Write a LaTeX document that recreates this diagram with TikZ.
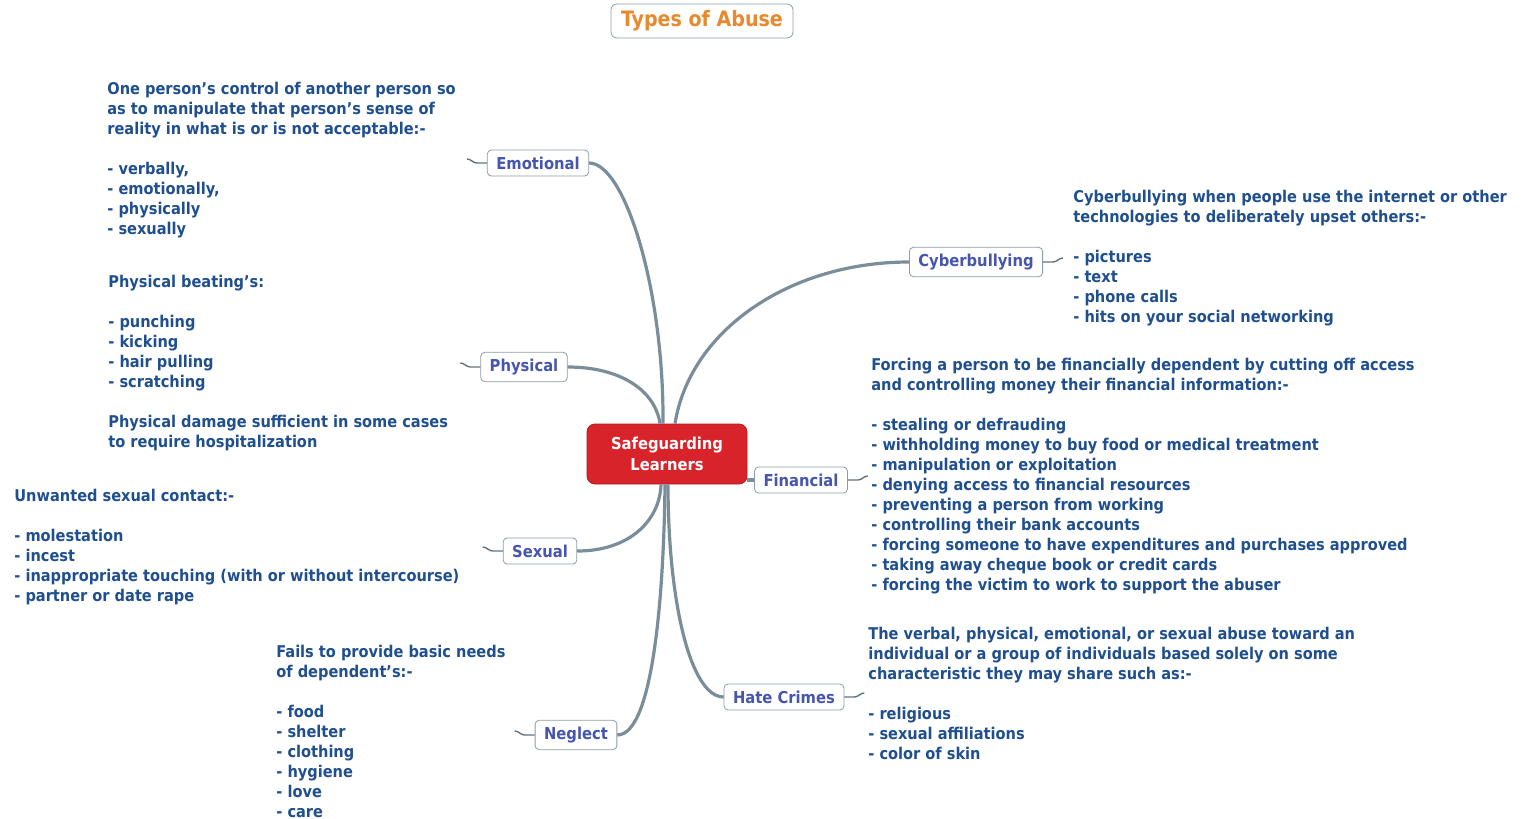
\documentclass[tikz,border=0pt]{standalone}
\usepackage{fontspec}
\setmainfont{DejaVu Sans Condensed}
\usetikzlibrary{calc}
\definecolor{notetext}{HTML}{1F4F8E}
\definecolor{topictext}{HTML}{4656AE}
\definecolor{topicline}{HTML}{8C9CA8}
\definecolor{branch}{HTML}{7A8D9A}
\definecolor{rootfill}{HTML}{D8232A}
\definecolor{titletext}{HTML}{E8892E}
\tikzset{
  topic/.style={draw=topicline, fill=white, rounded corners=2pt, text=topictext,
    font=\bfseries\fontsize{8.2}{10}\selectfont, inner xsep=4.5pt, minimum height=12.5pt},
  note/.style={anchor=west, align=left, inner sep=0pt, text=notetext,
    font=\bfseries\fontsize{8.1}{10}\selectfont},
  limb/.style={draw=branch, line width=1.6pt},
  tail/.style={draw=branch!80!black, line width=0.7pt},
}
\begin{document}
\begin{tikzpicture}[x=0.5pt,y=-0.5pt]
\useasboundingbox (0,0) rectangle (1522,819);
% Drawing title and root
\node[draw=topicline, rounded corners=3pt, fill=white, text=titletext, minimum width=91pt,
  minimum height=16pt, font=\bfseries\fontsize{10.6}{12}\selectfont] (title) at (702,21) {Types of Abuse};
\node[draw=rootfill!80!black, fill=rootfill, rounded corners=4pt, text=white, align=center,
  minimum width=80pt, minimum height=30pt, font=\bfseries\fontsize{8.2}{10.5}\selectfont]
  (root) at (667,454) {Safeguarding\\Learners};
% Drawing topics
\node[topic] (emotional) at (538,163) {Emotional};
\node[topic] (physical) at (524,367) {Physical};
\node[topic] (sexual) at (540,551) {Sexual};
\node[topic] (neglect) at (576,735) {Neglect};
\node[topic] (cyber) at (976,262) {Cyberbullying};
\node[topic] (financial) at (801,480) {Financial};
\node[topic] (hate) at (784,697) {Hate Crimes};
% Drawing branches
\draw[limb] (emotional.east) .. controls (625,163) and (664,290) .. ($(root.north)+(-4,0)$);
\draw[limb] (physical.east) .. controls (620,367) and (655,390) .. ($(root.north)+(-7,0)$);
\draw[limb] (cyber.west) .. controls (790,262) and (690,330) .. ($(root.north)+(8,0)$);
\draw[limb] (root.east |- financial.west) -- (financial.west);
\draw[limb] (sexual.east) .. controls (630,551) and (660,520) .. ($(root.south)+(-6,0)$);
\draw[limb] (neglect.east) .. controls (655,735) and (664,580) .. ($(root.south)+(-2,0)$);
\draw[limb] (hate.west) .. controls (690,697) and (668,600) .. ($(root.south)+(1,0)$);
% Drawing notes
\node[note] (emotionalnote) at (107,160) {One person's control of another person so\\
  as to manipulate that person's sense of\\reality in what is or is not acceptable:-\\[10pt]
  - verbally,\\- emotionally,\\- physically\\- sexually};
\node[note] (physicalnote) at (108,363) {Physical beating's:\\[10pt]
  - punching\\- kicking\\- hair pulling\\- scratching\\[10pt]
  Physical damage sufficient in some cases\\to require hospitalization};
\node[note] (sexualnote) at (14,547) {Unwanted sexual contact:-\\[10pt]
  - molestation\\- incest\\- inappropriate touching (with or without intercourse)\\- partner or date rape};
\node[note] (neglectnote) at (276,731) {Fails to provide basic needs\\of dependent's:-\\[10pt]
  - food\\- shelter\\- clothing\\- hygiene\\- love\\- care};
\node[note] (cybernote) at (1073,258) {Cyberbullying when people use the internet or other\\
  technologies to deliberately upset others:-\\[10pt]
  - pictures\\- text\\- phone calls\\- hits on your social networking};
\node[note] (financialnote) at (871,476) {Forcing a person to be financially dependent by cutting off access\\
  and controlling money their financial information:-\\[10pt]
  - stealing or defrauding\\- withholding money to buy food or medical treatment\\
  - manipulation or exploitation\\- denying access to financial resources\\
  - preventing a person from working\\- controlling their bank accounts\\
  - forcing someone to have expenditures and purchases approved\\
  - taking away cheque book or credit cards\\- forcing the victim to work to support the abuser};
\node[note] (hatenote) at (868,693) {The verbal, physical, emotional, or sexual abuse toward an\\
  individual or a group of individuals based solely on some\\
  characteristic they may share such as:-\\[10pt]
  - religious\\- sexual affiliations\\- color of skin};
% Drawing tails
\draw[tail] (emotional.west) -- ++(-10,0) to[out=180,in=0] ++(-10,-4);
\draw[tail] (physical.west) -- ++(-10,0) to[out=180,in=0] ++(-10,-4);
\draw[tail] (sexual.west) -- ++(-10,0) to[out=180,in=0] ++(-10,-4);
\draw[tail] (neglect.west) -- ++(-10,0) to[out=180,in=0] ++(-10,-4);
\draw[tail] (cyber.east) -- ++(10,0) to[out=0,in=180] ++(10,-4);
\draw[tail] (financial.east) -- ++(10,0) to[out=0,in=180] ++(10,-4);
\draw[tail] (hate.east) -- ++(10,0) to[out=0,in=180] ++(10,-4);
\end{tikzpicture}
\end{document}
